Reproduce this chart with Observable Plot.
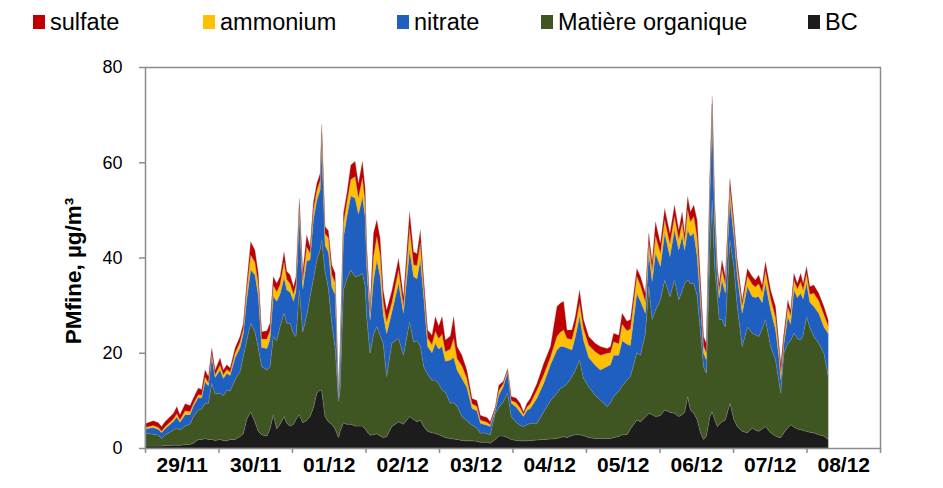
<!DOCTYPE html>
<html><head><meta charset="utf-8">
<script src="https://cdn.jsdelivr.net/npm/d3@7"></script>
<script src="https://cdn.jsdelivr.net/npm/@observablehq/plot@0.6"></script>
<style>
body{margin:0;background:#fff;font-family:"Liberation Sans",Arial,sans-serif;}
#legend{position:relative;width:943px;height:45px;}
.item{position:absolute;top:9px;height:26px;display:flex;align-items:center;font-size:23.5px;color:#000;white-space:nowrap;}
.sw{width:12px;height:14px;margin-right:5px;}
</style></head>
<body>
<div id="legend"></div>
<div id="chart"></div>
<script>
// time in hours since 29/11 00:00
const hours = [0,2.7,4.4,5.4,6.5,9.3,10.4,11.4,13.1,14.7,15.8,17.4,18.5,19.6,20.7,21.8,22.9,24.5,25.6,26.7,27.8,29.4,31,32.1,33.2,34.5,35.9,37,38.1,39.8,40.8,41.9,43,44.1,45.4,46.3,47.4,48.5,49.3,50.4,51.5,52.8,53.9,55,56.1,57.2,57.7,58.8,59.9,61,62.1,63.2,63.7,64.8,65.9,67.2,68.6,69.7,71,71.9,72.4,73.5,74.6,75.7,76.8,77.8,78.9,80.6,82.8,84.4,86.4,87.7,88.8,89.9,91,92.3,93.7,94.8,95.9,97,98.1,99.7,100.8,101.9,103.5,105.1,106.8,108.4,109.5,110.6,111.7,112.7,114.4,115.5,117,118.4,119.6,121.2,122.5,123.6,124.7,125.8,128,130.2,132.4,134.5,135.6,136.7,137.8,139.4,140.5,141.9,143.2,144.9,147,148.7,150.9,152,153,154.7,155.8,157.4,158.5,160.6,161.8,163.4,164.5,165.6,166.7,168.3,169.7,171.4,172.9,174.3,175.4,176.2,177.2,178.1,179.2,180.3,181.4,182.4,183.3,184.4,185.2,186,186.9,187.5,188.4,189.5,191,192.3,193.4,195,196.7,198.3,199.3,200.4,201.5,202.6,204.3,205.9,207,207.6,208.6,209.9,210.8,211.9,213,214.1,214.9,216,217.1,218.4,220,221.7,223.1];
const bc = [0.4,0.4,0.4,0.4,0.5,0.6,0.6,0.6,0.7,0.8,1.0,1.8,1.8,2.0,1.8,1.8,1.6,1.8,1.6,1.5,1.8,1.8,2.4,3.0,6.0,7.6,5.5,3.5,2.8,2.5,4.0,7.0,4.0,5.0,6.6,5.2,4.6,5.0,6.0,7.0,5.3,5.8,6.6,8.5,11.5,12.2,12.0,6.6,5.5,5.0,4.0,2.2,3.5,5.3,5.0,5.0,4.6,4.6,4.6,4.0,3.5,2.7,2.8,3.0,2.5,2.2,2.4,4.5,5.5,5.0,6.6,6.0,5.5,5.9,4.5,3.5,3.2,3.1,2.8,2.5,2.2,2.0,1.9,1.8,1.6,1.5,1.5,1.4,1.2,1.2,1.2,1.0,1.8,2.5,2.5,2.2,1.8,1.6,1.5,1.5,1.5,1.6,1.7,1.8,1.9,2.0,2.2,2.4,2.2,2.6,2.8,2.8,2.6,2.2,2.0,2.0,2.0,2.0,2.2,2.4,2.8,2.8,4.0,5.9,5.5,6.5,7.3,7.0,6.6,6.8,8.0,7.5,7.3,6.6,7.0,7.5,10.8,8.0,7.3,6.0,3.2,1.8,2.5,6.5,7.6,6.0,4.5,5.0,5.5,5.9,9.4,6.0,4.5,3.5,3.2,4.2,3.8,3.5,4.0,4.5,3.2,2.5,2.2,2.2,3.2,4.2,4.9,4.4,4.0,3.9,3.7,3.5,3.3,3.2,2.8,2.5,1.8];
const organique = [2.7,2.5,2.3,1.6,2.2,3.2,3.6,3.2,3.9,4.2,5.6,6.2,6.4,7.4,7.6,11.8,9.8,9.7,9.4,10.7,10.2,12.5,13.6,16.2,16.5,18.6,18.9,17.5,14.3,13.9,13.0,16.4,18.5,20.5,21.7,21.0,21.6,19.0,17.4,26.2,19.1,22.0,25.2,27.0,28.0,29.5,31.7,30.4,28.0,21.2,17.0,7.6,8.7,27.9,30.5,32.4,31.4,31.5,32.1,30.0,24.0,17.2,21.0,22.5,21.0,19.8,12.6,17.5,17.5,14.5,19.9,16.3,17.0,15.5,12.6,12.0,11.0,11.2,10.7,9.7,9.5,7.4,7.6,7.0,5.0,4.2,3.3,2.8,1.9,2.0,1.8,1.8,5.5,6.0,7.2,9.3,4.8,3.8,3.3,3.0,3.4,3.6,3.5,5.8,8.1,9.5,10.3,10.5,11.3,12.4,13.5,15.7,12.0,10.7,9.0,8.1,6.7,7.5,8.6,9.5,10.2,11.5,11.0,14.1,14.0,17.6,26.6,20.0,22.4,24.3,27.3,24.3,28.0,24.5,26.0,27.0,24.5,26.5,27.3,26.0,20.9,15.3,13.2,33.5,44.4,32.0,27.3,22.0,21.5,19.5,34.3,32.1,25.2,17.8,22.2,19.9,20.0,19.9,21.0,22.5,18.1,16.0,11.8,9.3,16.7,17.8,17.6,19.7,19.0,18.8,20.0,24.1,22.0,20.2,19.2,17.4,13.2];
const nitrate = [0.9,1.4,1.2,1.2,1.3,1.8,2.3,1.6,2.4,2.0,2.2,2.6,2.3,4.5,3.6,5.4,3.4,4.9,3.6,3.5,3.2,4.6,5.0,4.8,8.5,11.2,12.0,11.0,4.0,4.5,5.8,8.5,8.3,6.8,7.5,7.0,6.5,6.8,9.5,15.5,9.0,11.5,7.7,12.5,12.5,12.5,20.0,5.5,7.6,7.6,11.2,0.8,6.0,11.0,13.0,15.5,16.5,13.0,16.0,14.5,10.5,7.0,11.3,14.0,12.5,6.0,9.0,6.5,11.6,8.8,15.1,13.7,13.0,18.1,14.7,5.8,5.8,7.7,7.3,9.1,6.5,9.1,9.5,7.6,8.0,7.0,3.5,3.6,2.1,1.8,1.8,1.7,0.7,2.5,3.2,4.4,2.8,3.2,2.7,2.1,3.0,3.1,5.3,6.0,7.5,9.1,8.8,8.4,7.5,5.6,7.0,9.1,8.0,6.1,6.4,6.3,8.4,8.0,8.7,7.6,9.5,7.5,6.5,12.5,11.3,4.2,7.0,8.0,11.9,7.0,9.8,8.4,10.5,10.5,11.5,7.0,10.5,10.0,10.5,8.2,6.2,2.8,2.8,12.0,18.0,10.0,3.5,4.5,8.3,7.1,8.3,6.3,6.3,7.0,8.5,7.7,7.8,8.4,5.5,7.6,7.6,6.3,5.0,2.8,1.8,5.6,3.5,9.1,8.6,9.8,7.6,7.0,5.3,6.3,6.3,5.5,9.0];
const ammonium = [0.3,0.4,0.4,0.3,0.4,0.5,0.7,0.5,0.8,0.6,0.5,0.6,0.6,1.0,0.7,0.8,0.6,1.0,0.8,0.8,0.7,1.0,1.2,1.0,2.0,3.1,2.6,2.4,1.8,2.0,1.8,2.2,2.0,2.0,3.2,2.2,1.8,1.5,1.5,2.0,1.8,2.9,1.4,2.0,2.0,2.0,2.3,2.5,3.0,2.6,2.5,0.2,1.2,3.0,3.0,3.5,4.5,3.5,4.0,3.0,2.3,1.4,5.0,4.9,4.5,2.7,2.5,2.0,2.8,1.5,4.5,2.5,2.8,3.5,1.8,1.8,1.7,2.5,2.2,2.6,2.0,2.3,4.0,2.4,2.6,1.9,1.0,0.9,0.7,0.6,0.6,0.4,0.3,1.0,0.6,0.4,0.6,0.9,0.9,0.5,0.7,1.0,1.7,1.8,1.6,2.8,3.0,3.5,2.0,2.2,2.3,2.8,2.4,2.6,2.8,3.1,2.8,2.5,2.8,2.4,3.5,2.8,3.5,3.5,3.3,2.4,2.3,2.3,3.6,2.8,2.8,2.7,2.8,2.2,2.8,2.0,4.2,3.0,3.5,4.0,2.0,1.5,1.5,2.5,2.2,2.2,1.5,1.6,2.2,1.9,2.6,1.8,1.8,1.6,2.2,2.6,2.2,2.7,2.2,2.6,2.4,2.6,1.5,1.6,1.0,2.0,1.8,2.0,1.8,2.4,1.9,2.0,1.7,2.8,2.6,2.6,1.6];
const sulfate = [0.8,1.0,1.0,1.0,1.1,1.2,1.5,1.1,1.5,1.3,1.2,1.4,1.2,1.5,1.3,1.2,1.0,1.5,1.0,1.0,0.9,1.1,1.2,1.2,1.6,2.8,2.6,2.3,1.5,1.7,1.6,1.9,1.8,1.7,2.2,1.7,1.8,1.6,1.6,1.7,1.8,2.5,1.4,1.7,1.6,1.5,2.0,1.5,1.5,2.0,2.0,0.2,1.2,2.1,2.0,3.0,3.2,3.0,3.5,3.0,2.0,1.4,5.0,3.5,3.5,2.5,2.5,2.5,2.4,2.0,3.5,2.7,2.5,2.8,2.0,1.7,2.0,3.1,2.6,3.7,2.5,2.7,4.6,2.5,2.3,1.8,1.1,1.3,1.0,1.0,1.0,0.6,0.4,1.2,0.5,0.4,0.8,1.0,1.0,0.5,0.8,1.1,1.4,2.4,2.2,6.3,6.1,6.0,1.8,2.0,2.0,2.8,2.0,1.8,1.8,1.8,1.0,1.3,1.8,1.8,2.3,2.0,2.0,1.7,1.9,1.8,1.9,1.8,3.0,2.1,2.4,2.2,2.4,2.0,2.3,1.6,2.8,2.1,2.4,3.7,3.0,2.0,2.0,1.8,1.6,1.8,1.3,1.5,2.0,1.6,2.0,1.7,1.7,1.2,1.6,1.6,1.5,1.8,1.5,1.9,1.9,2.3,1.5,1.9,1.4,1.5,1.2,1.5,1.2,1.8,1.4,1.5,1.6,1.7,1.6,1.7,1.3];

const seriesNames = ["sulfate","ammonium","nitrate","Matière organique","BC"];
const seriesColors = ["#c00000","#ffc000","#1f5fc0","#3f5623","#1c1c1c"];
const stackOrder = ["BC","Matière organique","nitrate","ammonium","sulfate"];
const yTicks = [0,20,40,60,80];
const dayLabels = ["29/11","30/11","01/12","02/12","03/12","04/12","05/12","06/12","07/12","08/12"];
const yTitle = "PMfine, µg/m³";

const valuesByName = {"sulfate": sulfate, "ammonium": ammonium, "nitrate": nitrate, "Matière organique": organique, "BC": bc};
const rows = [];
for (const name of stackOrder) {
  valuesByName[name].forEach((v, i) => rows.push({h: hours[i], v, s: name}));
}
const dayTicks = d3.range(0, 241, 24);
const dayMids = dayLabels.map((d, i) => i * 24 + 12);
const labelOf = new Map(dayMids.map((m, i) => [m, dayLabels[i]]));

// legend
const legend = document.getElementById("legend");
const legendX = [33, 203, 397, 541, 808];
seriesNames.forEach((name, i) => {
  const it = document.createElement("div");
  it.className = "item";
  it.style.left = legendX[i] + "px";
  it.innerHTML = `<span class="sw" style="background:${seriesColors[i]}"></span><span>${name}</span>`;
  legend.appendChild(it);
});

const chart = Plot.plot({
  width: 943, height: 443,
  marginTop: 22, marginBottom: 40, marginLeft: 145, marginRight: 63,
  x: {domain: [0, 240], axis: null},
  y: {domain: [0, 80], axis: null},
  color: {domain: seriesNames, range: seriesColors},
  style: {fontFamily: "'Liberation Sans', Arial, sans-serif", background: "#fff", color: "#000"},
  marks: [
    Plot.areaY(rows, {x: "h", y: "v", z: "s", fill: "s", order: stackOrder, stroke: "#8f8f8f", strokeWidth: 0.4, strokeOpacity: 0.7}),
    Plot.frame({stroke: "#8c8c8c", strokeWidth: 1.5}),
    Plot.axisY({ticks: yTicks, tickSize: 6, tickPadding: 17, fontSize: 18, stroke: "#8c8c8c", strokeWidth: 1.5, label: null}),
    Plot.axisX({ticks: dayTicks, tickSize: 5, tickFormat: () => "", stroke: "#8c8c8c", strokeWidth: 1.5, label: null}),
    Plot.axisX({ticks: dayMids, tickSize: 0, tickPadding: 9, tickFormat: d => labelOf.get(d), fontSize: 21, fontWeight: "bold", label: null}),
    Plot.text([yTitle], {frameAnchor: "left", textAnchor: "middle", dx: -72, dy: 13, rotate: -90, fontSize: 22.5, fontWeight: "bold", fill: "#000"})
  ]
});
document.getElementById("chart").appendChild(chart);
</script>
</body></html>
